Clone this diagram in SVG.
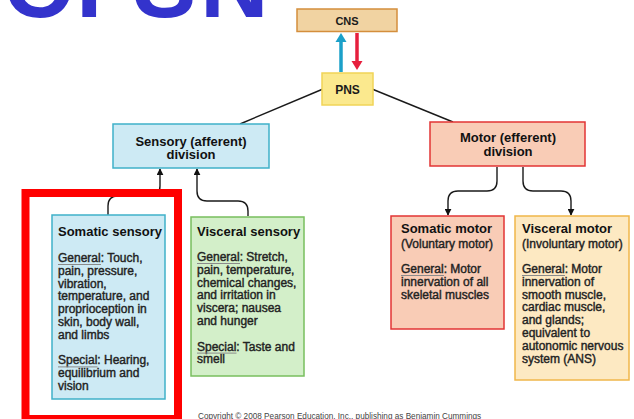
<svg xmlns="http://www.w3.org/2000/svg" width="634" height="419" viewBox="0 0 634 419">
  <defs>
    <marker id="tip" viewBox="0 0 10 10" refX="9" refY="5" markerWidth="7" markerHeight="7" markerUnits="userSpaceOnUse" orient="auto">
      <path d="M0,0 L10,5 L0,10 z" fill="#111"/>
    </marker>
    <style>
      .lbl { font-family: "Liberation Sans", Arial, sans-serif; font-weight: bold; fill: #1a1a1a; }
      .title { font-family: "Liberation Sans", Arial, sans-serif; font-weight: bold; font-size: 13px; fill: #111; }
      .body { font-family: "Liberation Sans", Arial, sans-serif; font-size: 12px; fill: #222; stroke: #222; stroke-width: 0.4px; }
      .ul { stroke: #8a8a8a; stroke-width: 1; }
      .conn { fill: none; stroke: #1a1a1a; stroke-width: 1.4; }
      .blue-box { fill: #cdeaf4; stroke: #3fb1c9; stroke-width: 1.5; }
      .green-box { fill: #d3efc9; stroke: #78bf5e; stroke-width: 1.5; }
      .salmon-box { fill: #f9ccb6; stroke: #e23434; stroke-width: 1.5; }
      .cream-box { fill: #fde9c2; stroke: #f0b64a; stroke-width: 1.5; }
    </style>
  </defs>

  <rect width="634" height="419" fill="#ffffff"/>

  <!-- large heading, mostly above the top edge -->
  <text font-family="'Liberation Sans', Arial, sans-serif" font-weight="bold" font-size="95" fill="#3333cc" x="3 76 133 200" y="17">CPSN</text>

  <!-- connectors -->
  <g id="connectors">
    <line x1="323" y1="89" x2="240" y2="124" class="conn"/>
    <line x1="372" y1="89" x2="453" y2="122" class="conn"/>
    <!-- ascending / descending between CNS and PNS -->
    <line x1="341" y1="72" x2="341" y2="41" stroke="#1ba0c9" stroke-width="3.5"/>
    <path d="M335.5,42 L341,33 L346.5,42 z" fill="#1ba0c9"/>
    <line x1="357" y1="33" x2="357" y2="62" stroke="#e61f3d" stroke-width="3.5"/>
    <path d="M351.5,61 L357,70 L362.5,61 z" fill="#e61f3d"/>
    <!-- into sensory division -->
    <path d="M108,215 V206 Q108,196 118,196 H150 Q160,196 160,186 V169" class="conn" marker-end="url(#tip)"/>
    <path d="M248,216 V211 Q248,201 238,201 H207 Q197,201 197,191 V169" class="conn" marker-end="url(#tip)"/>
    <!-- out of motor division -->
    <path d="M497,167 V181 Q497,191 487,191 H458 Q448,191 448,201 V215" class="conn" marker-end="url(#tip)"/>
    <path d="M523,167 V181 Q523,191 533,191 H561 Q571,191 571,201 V215" class="conn" marker-end="url(#tip)"/>
  </g>

  <g id="cns">
    <rect x="297" y="9" width="100" height="22.5" fill="#f1d3a2" stroke="#d48e3c" stroke-width="1.5"/>
    <text class="lbl" x="347" y="24.5" font-size="11" text-anchor="middle">CNS</text>
  </g>

  <g id="pns">
    <rect x="322" y="73" width="51" height="32" fill="#fbe98e" stroke="#f1d457" stroke-width="1.5"/>
    <text class="lbl" x="347.5" y="94" font-size="12" text-anchor="middle">PNS</text>
  </g>

  <g id="sensory-division">
    <rect x="113" y="124" width="156" height="44" class="blue-box"/>
    <text class="title" x="191" y="145.5" text-anchor="middle">Sensory (afferent)</text>
    <text class="title" x="191" y="159" text-anchor="middle">division</text>
  </g>

  <g id="motor-division">
    <rect x="430" y="122" width="155" height="44" class="salmon-box"/>
    <text class="title" x="508" y="142" text-anchor="middle">Motor (efferent)</text>
    <text class="title" x="508" y="155.5" text-anchor="middle">division</text>
  </g>

  <g id="somatic-sensory">
    <rect x="52" y="215" width="113" height="184" class="blue-box"/>
    <text class="title" x="58" y="236">Somatic sensory</text>
    <text class="body" x="58" y="262">General: Touch,</text>
    <text class="body" x="58" y="274.8">pain, pressure,</text>
    <text class="body" x="58" y="287.6">vibration,</text>
    <text class="body" x="58" y="300.4">temperature, and</text>
    <text class="body" x="58" y="313.2">proprioception in</text>
    <text class="body" x="58" y="326">skin, body wall,</text>
    <text class="body" x="58" y="338.8">and limbs</text>
    <text class="body" x="58" y="364.4">Special: Hearing,</text>
    <text class="body" x="58" y="377.2">equilibrium and</text>
    <text class="body" x="58" y="390">vision</text>
    <line x1="58" y1="264.5" x2="101" y2="264.5" class="ul"/>
    <line x1="58" y1="366.9" x2="97.5" y2="366.9" class="ul"/>
  </g>

  <g id="visceral-sensory">
    <rect x="191" y="217" width="113" height="159" class="green-box"/>
    <text class="title" x="197" y="236">Visceral sensory</text>
    <text class="body" x="197" y="261">General: Stretch,</text>
    <text class="body" x="197" y="273.8">pain, temperature,</text>
    <text class="body" x="197" y="286.6">chemical changes,</text>
    <text class="body" x="197" y="299.4">and irritation in</text>
    <text class="body" x="197" y="312.2">viscera; nausea</text>
    <text class="body" x="197" y="325">and hunger</text>
    <text class="body" x="197" y="350.6">Special: Taste and</text>
    <text class="body" x="197" y="363.4">smell</text>
    <line x1="197" y1="263.5" x2="240" y2="263.5" class="ul"/>
    <line x1="197" y1="353.1" x2="236.5" y2="353.1" class="ul"/>
  </g>

  <g id="somatic-motor">
    <rect x="391" y="216" width="113" height="113" class="salmon-box"/>
    <text class="title" x="401" y="232.5">Somatic motor</text>
    <text class="body" x="401" y="248">(Voluntary motor)</text>
    <text class="body" x="401" y="273">General: Motor</text>
    <text class="body" x="401" y="285.8">innervation of all</text>
    <text class="body" x="401" y="298.6">skeletal muscles</text>
    <line x1="401" y1="275.5" x2="444" y2="275.5" class="ul"/>
  </g>

  <g id="visceral-motor">
    <rect x="515" y="216" width="114" height="164" class="cream-box"/>
    <text class="title" x="522" y="233">Visceral motor</text>
    <text class="body" x="522" y="247.5">(Involuntary motor)</text>
    <text class="body" x="522" y="273">General: Motor</text>
    <text class="body" x="522" y="285.8">innervation of</text>
    <text class="body" x="522" y="298.6">smooth muscle,</text>
    <text class="body" x="522" y="311.4">cardiac muscle,</text>
    <text class="body" x="522" y="324.2">and glands;</text>
    <text class="body" x="522" y="337">equivalent to</text>
    <text class="body" x="522" y="349.8">autonomic nervous</text>
    <text class="body" x="522" y="362.6">system (ANS)</text>
    <line x1="522" y1="275.5" x2="565" y2="275.5" class="ul"/>
  </g>

  <!-- highlight frame -->
  <rect x="25.5" y="193" width="152.5" height="226" fill="none" stroke="#ff0000" stroke-width="8"/>

  <text x="198" y="418.5" font-family="'Liberation Sans', Arial, sans-serif" font-size="8.2" fill="#444">Copyright © 2008 Pearson Education, Inc., publishing as Benjamin Cummings</text>
</svg>
